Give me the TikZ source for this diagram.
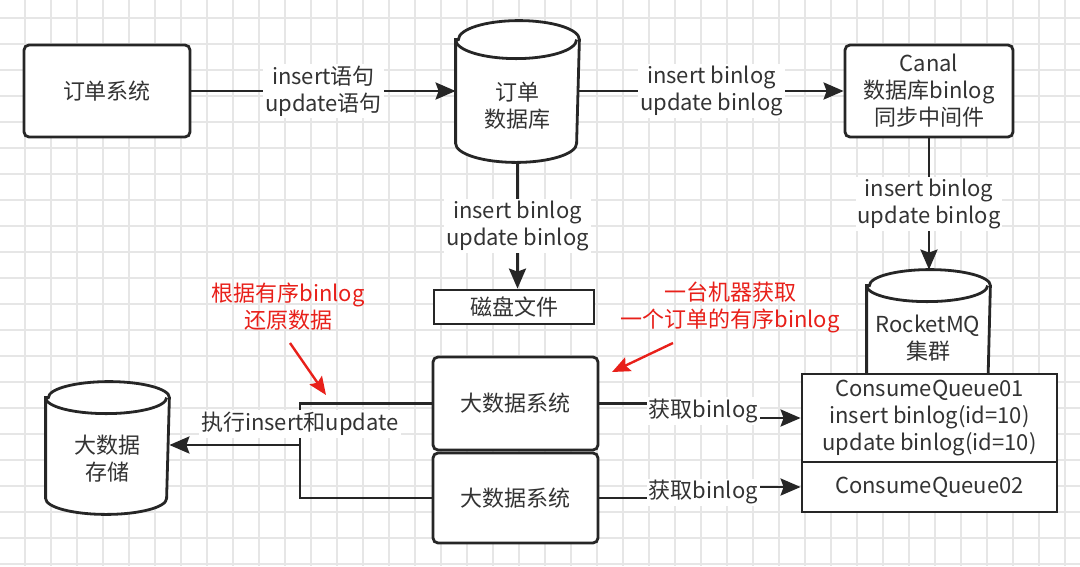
\documentclass[tikz,border=0pt]{standalone}
\usepackage{fontspec}
\setmainfont{Noto Sans CJK SC}
\usetikzlibrary{shapes.geometric, arrows.meta, positioning, calc}
\definecolor{inkline}{HTML}{262626}
\definecolor{inktext}{HTML}{333333}
\definecolor{notered}{HTML}{E8201A}
\definecolor{gridgray}{HTML}{E6E6E6}
% cylinder drawn on a frame node: #1 node, #2 half width, #3 cap radius
\newcommand{\dbshape}[3]{%
  \filldraw[draw=inkline, fill=white, line width=2.8pt]
    ($(#1.north west)+(0,#3)$) -- ($(#1.south west)-(0,#3)$)
    arc[start angle=180, end angle=360, x radius=#2pt, y radius=#3pt]
    -- ($(#1.north east)+(0,#3)$)
    arc[start angle=0, end angle=180, x radius=#2pt, y radius=#3pt] -- cycle;
  \draw[draw=inkline, line width=2.8pt]
    ($(#1.north west)+(0,#3)$) arc[start angle=180, end angle=360, x radius=#2pt, y radius=#3pt];
}

\begin{document}
\begin{tikzpicture}[x=1pt, y=-1pt,
    box/.style={rectangle, draw=inkline, line width=2.8pt, rounded corners=5pt, fill=white, align=center, text=inktext, font=\fontsize{22}{27}\selectfont},
    plainbox/.style={rectangle, draw=inkline, line width=2.8pt, fill=white, align=center, text=inktext, font=\fontsize{22}{27}\selectfont},
    dbframe/.style={rectangle, inner sep=0pt, outer sep=1.4pt},
    dbtext/.style={align=center, text=inktext, font=\fontsize{22}{27}\selectfont},
    lbl/.style={fill=white, inner sep=2pt, align=center, text=inktext, font=\fontsize{22}{27}\selectfont},
    note/.style={align=center, text=notered, font=\fontsize{22}{27}\selectfont},
    arrow/.style={-{Stealth[length=20pt, width=17pt, inset=3pt]}, line width=2.8pt, draw=inkline},
    link/.style={line width=2.8pt, draw=inkline},
    redarrow/.style={-{Stealth[length=18pt, width=15pt, inset=3pt]}, line width=2.4pt, draw=notered}
]
\useasboundingbox (0,0) rectangle (1080,566);
\fill[white] (0,0) rectangle (1080,566);
\foreach \gx in {25,51,...,1080} \draw[gridgray, line width=1.2pt] (\gx,0) -- (\gx,566);
\foreach \gy in {18,44,...,566} \draw[gridgray, line width=1.2pt] (0,\gy) -- (1080,\gy);

% top row
\node[box, minimum width=166pt, minimum height=92pt] (order) at (107,91) {订单系统};
\node[dbframe, minimum width=121pt, minimum height=139pt] (orderdb) at (517.5,91.5) {};
\dbshape{orderdb}{60.5}{19}
\node[dbtext] (orderdbtext) at (517.5,106) {订单\\数据库};
\node[box, minimum width=168pt, minimum height=92pt] (canal) at (929,91) {Canal\\数据库binlog\\同步中间件};

\node[plainbox, minimum width=160pt, minimum height=34pt, inner sep=0pt] (disk) at (514,307) {磁盘文件};

% rocketmq
\node[dbframe, minimum width=121pt, minimum height=140pt] (mq) at (928.5,341) {};
\dbshape{mq}{60.5}{16}
\node[dbtext] (mqtext) at (928,338) {RocketMQ\\集群};
\node[plainbox, minimum width=255pt, minimum height=88pt] (cq1) at (929.5,418) {ConsumeQueue01\\insert binlog(id=10)\\update binlog(id=10)};
\node[plainbox, minimum width=255pt, minimum height=50pt] (cq2) at (929.5,487) {ConsumeQueue02};

% big data
\node[box, minimum width=165pt, minimum height=93pt] (bd1) at (515.5,403.5) {大数据系统};
\node[box, minimum width=165pt, minimum height=90pt] (bd2) at (515.5,498) {大数据系统};
\node[dbframe, minimum width=121pt, minimum height=130pt] (store) at (107.5,448) {};
\dbshape{store}{60.5}{16}
\node[dbtext] (storetext) at (107.5,459) {大数据\\存储};

% notes
\node[note] (note1) at (288,307) {根据有序binlog\\还原数据};
\node[note] (note2) at (730,307) {一台机器获取\\一个订单的有序binlog};

\draw[arrow] (order.east) -- node[lbl]{insert语句\\update语句} (order.east -| orderdb.west);
\draw[arrow] (orderdb.east |- canal.west) -- node[lbl]{insert binlog\\update binlog} (canal.west);
\draw[arrow] (canal.south) -- node[lbl]{insert binlog\\update binlog} (canal.south |- mq.north);
\draw[arrow] (orderdb.south) -- node[lbl]{insert binlog\\update binlog} (orderdb.south |- disk.north);

\draw[arrow] (bd1.east) -- ++(104,0) |- node[lbl, pos=0.25]{获取binlog} (cq1.west);
\draw[arrow] (bd2.east) -- ++(104,0) |- node[lbl, pos=0.25]{获取binlog} (cq2.west);

\coordinate (join) at (300,445);
\draw[arrow] (bd1.west) -| node[lbl, pos=0.75]{执行insert和update} (join) -- (join -| store.east);
\draw[link] (bd2.west) -| (join);

\coordinate (tail1) at (290,343);
\coordinate (head1) at (326,395);
\draw[redarrow] (tail1) -- (head1);
\coordinate (tail2) at (673,343);
\coordinate (head2) at (612,372);
\draw[redarrow] (tail2) -- (head2);
\end{tikzpicture}
\end{document}
